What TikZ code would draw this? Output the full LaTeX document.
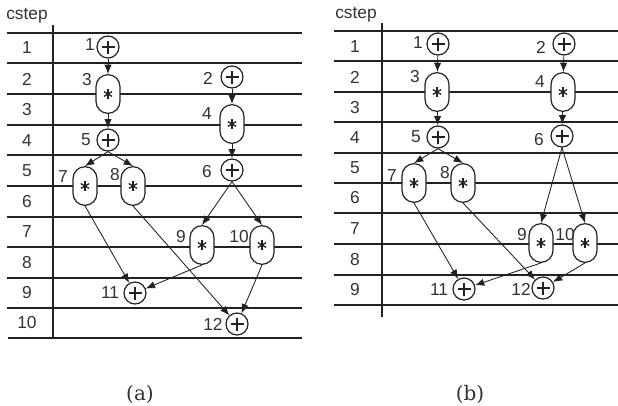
\documentclass[tikz,border=0pt]{standalone}
\usepackage{fontspec}
\setmainfont{Liberation Sans}
\newfontfamily\capfont{DejaVu Serif}
\usetikzlibrary{arrows.meta}
\definecolor{ink}{HTML}{222222}
\definecolor{txt}{HTML}{333333}
\begin{document}
\begin{tikzpicture}[x=0.75pt,y=-0.75pt,
  gridline/.style={line width=1pt, draw=ink},
  thickgrid/.style={line width=1.5pt, draw=ink},
  addnode/.style={circle, draw=ink, line width=0.9pt, minimum size=16.5pt, inner sep=0pt, fill=white,
    path picture={\draw[line width=1.4pt, ink] (path picture bounding box.center) +(-6.5,0) -- +(6.5,0) +(0,-6.5) -- +(0,6.5);}},
  mulnode/.style={rectangle, rounded corners=9pt, draw=ink, line width=0.9pt, minimum width=18pt, minimum height=29pt, inner sep=0pt, fill=white,
    path picture={\foreach \a in {90,30,150}{\draw[line width=1pt, ink] (path picture bounding box.center) +(\a:4.8) -- +(\a+180:4.8);}}},
  lbl/.style={text=txt, font=\fontsize{13}{15}\selectfont, inner sep=0pt},
  captext/.style={text=txt, font=\capfont\fontsize{15}{17}\selectfont, inner sep=0pt},
  arr/.style={-{Latex[length=7pt,width=5.5pt]}, line width=0.65pt, draw=ink}]
\useasboundingbox (0,0) rectangle (618,405);

% ---------------- (a) ----------------
\node[lbl] (cstepa) at (27,16) {cstep};
\foreach \y in {33,63,94,125,155,186,247,278,308}{\draw[gridline] (7,\y) -- (302,\y);}
\draw[thickgrid] (7,217) -- (302,217);
\draw[gridline] (8,338) -- (302,338);
\draw[gridline] (53,25) -- (53,338);
\foreach \n/\y in {1/48,2/79,3/110,4/141,5/171,6/202,7/232,8/263,9/293,10/323}{\node[lbl] (ra\n) at (27,\y) {\n};}

\node[addnode] (a1) at (108,47) {};
\node[addnode] (a2) at (232,77) {};
\node[mulnode] (a3) at (108,94) {};
\node[mulnode] (a4) at (232,124) {};
\node[addnode] (a5) at (108,140) {};
\node[addnode] (a6) at (232,170) {};
\node[mulnode] (a7) at (85,186) {};
\node[mulnode] (a8) at (133,186) {};
\node[mulnode] (a9) at (202,245) {};
\node[mulnode] (a10) at (262,245) {};
\node[addnode] (a11) at (135,293) {};
\node[addnode] (a12) at (237,324) {};

\node[lbl] (la1) at (90,45) {1};
\node[lbl] (la2) at (208,78) {2};
\node[lbl] (la3) at (87,80) {3};
\node[lbl] (la4) at (207,114) {4};
\node[lbl] (la5) at (86,140) {5};
\node[lbl] (la6) at (207,172) {6};
\node[lbl] (la7) at (63,177) {7};
\node[lbl] (la8) at (115,175) {8};
\node[lbl] (la9) at (181,237) {9};
\node[lbl] (la10) at (239,237) {10};
\node[lbl] (la11) at (110,293) {11};
\node[lbl] (la12) at (213,324) {12};

\draw[arr] (a1) -- (a3);
\draw[arr] (a3) -- (a5);
\draw[arr] (a2) -- (a4);
\draw[arr] (a4) -- (a6);
\draw[arr] (a5.south) -- (a7.north);
\draw[arr] (a5.south) -- (a8.north);
\draw[arr] (a6.south) -- (a9.north);
\draw[arr] (a6.south) -- (a10.north);
\draw[arr] (a7.south) -- (a11);
\draw[arr] (a8.south) -- (a12);
\draw[arr] (a9.south) -- (a11);
\draw[arr] (a10.south) -- (a12);

% ---------------- (b) ----------------
\node[lbl] (cstepb) at (356,15) {cstep};
\foreach \y in {31,61,92,153,183,213,244,275,305}{\draw[gridline] (334,\y) -- (618,\y);}
\draw[thickgrid] (334,122) -- (618,122);
\draw[gridline] (382,23) -- (382,317);
\foreach \n/\y in {1/47,2/77,3/108,4/138,5/168,6/198,7/229,8/260,9/290}{\node[lbl] (rb\n) at (355,\y) {\n};}

\node[addnode] (b1) at (438,44) {};
\node[addnode] (b2) at (564,44) {};
\node[mulnode] (b3) at (437,92) {};
\node[mulnode] (b4) at (563,92) {};
\node[addnode] (b5) at (438,137) {};
\node[addnode] (b6) at (562,136) {};
\node[mulnode] (b7) at (414,183) {};
\node[mulnode] (b8) at (463,183) {};
\node[mulnode] (b9) at (541,243) {};
\node[mulnode] (b10) at (585,243) {};
\node[addnode] (b11) at (464,289) {};
\node[addnode] (b12) at (543,288) {};

\node[lbl] (lb1) at (418,43) {1};
\node[lbl] (lb2) at (541,47) {2};
\node[lbl] (lb3) at (415,77) {3};
\node[lbl] (lb4) at (540,82) {4};
\node[lbl] (lb5) at (416,137) {5};
\node[lbl] (lb6) at (539,140) {6};
\node[lbl] (lb7) at (392,176) {7};
\node[lbl] (lb8) at (445,173) {8};
\node[lbl] (lb9) at (522,235) {9};
\node[lbl] (lb10) at (565,235) {10};
\node[lbl] (lb11) at (439,290) {11};
\node[lbl] (lb12) at (521,289) {12};

\draw[arr] (b1) -- (b3);
\draw[arr] (b2) -- (b4);
\draw[arr] (b3) -- (b5);
\draw[arr] (b4) -- (b6);
\draw[arr] (b5.south) -- (b7.north);
\draw[arr] (b5.south) -- (b8.north);
\draw[arr] (b6.south) -- (b9.north);
\draw[arr] (b6.south) -- (b10.north);
\draw[arr] (b7.south) -- (b11);
\draw[arr] (b8.south) -- (b12);
\draw[arr] (b9.south) -- (b11);
\draw[arr] (b10.south) -- (b12);

% captions
\node[captext] (capa) at (140,394) {(a)};
\node[captext] (capb) at (470,394) {(b)};
\end{tikzpicture}
\end{document}
